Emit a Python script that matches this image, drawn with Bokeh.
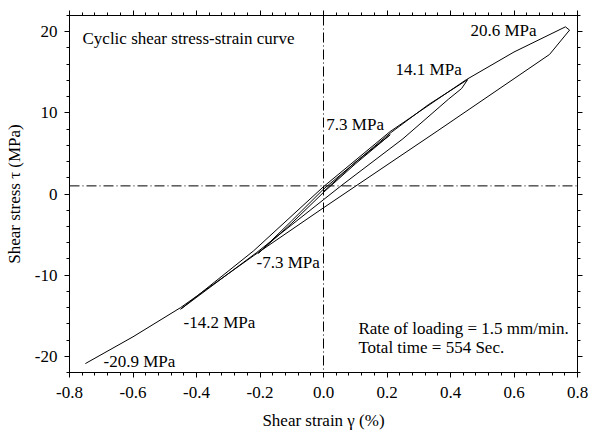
from bokeh.plotting import figure
from bokeh.models import (Range1d, LinearAxis, SingleIntervalTicker,
                          PrintfTickFormatter, Span, Label, CustomLabelingPolicy)
from bokeh.embed import file_html
from bokeh.resources import INLINE

# Loading path of the cyclic shear test: strain (%) and shear stress (MPa)
strain = [0.00, 0.10, 0.21, 0.10, 0.00, -0.10, -0.205, -0.10, 0.00, 0.21,
          0.33, 0.454, 0.435, 0.394, 0.25, 0.055, 0.00, -0.21, -0.45,
          -0.22, 0.00, 0.21, 0.45, 0.60, 0.762, 0.775, 0.712, 0.36, 0.00,
          -0.22, -0.45, -0.60, -0.75]
stress = [0.3, 3.9, 7.3, 3.7, 0.2, -3.6, -7.3, -3.3, 0.6, 7.5,
          11.0, 14.1, 13.0, 11.7, 6.8, 1.0, -0.7, -7.2, -14.2,
          -7.0, 0.9, 7.7, 14.1, 17.5, 20.6, 20.2, 17.2, 7.8, -1.7,
          -7.6, -14.0, -17.6, -20.9]

# Peak annotations: text, anchor strain, anchor stress
peak_text = ["20.6 MPa", "14.1 MPa", "7.3 MPa", "-7.3 MPa", "-14.2 MPa", "-20.9 MPa"]
peak_x = [0.463, 0.227, 0.009, -0.211, -0.441, -0.693]
peak_y = [20.1, 15.3, 8.6, -8.45, -15.8, -20.6]

ref_strain = 0.0
ref_stress = 1.0

FONT = "Liberation Serif"
FS = "17px"

p = figure(width=589, height=433, output_backend="svg", toolbar_location=None,
           x_range=Range1d(-0.8, 0.8), y_range=Range1d(-22, 22),
           x_axis_label="Shear strain γ (%)", y_axis_label="Shear stress τ (MPa)",
           min_border_left=69, min_border_right=12, min_border_top=15,
           min_border_bottom=61)
p.xgrid.visible = False
p.ygrid.visible = False
p.outline_line_color = "black"
p.outline_line_width = 1
p.background_fill_color = "white"
p.border_fill_color = "white"

xt = SingleIntervalTicker(interval=0.2, num_minor_ticks=5)
yt = SingleIntervalTicker(interval=10, num_minor_ticks=5)
p.xaxis.ticker = xt
p.yaxis.ticker = yt
p.xaxis.formatter = PrintfTickFormatter(format="%.1f")
p.yaxis.formatter = PrintfTickFormatter(format="%d")

# drops every label: the mirrored axes carry ticks only
no_labels = CustomLabelingPolicy(code="""
    for (const i of indices) indices.unset(i)
    return indices
""")


def style(ax, labels=True):
    ax.axis_line_color = "black"
    ax.major_tick_line_color = "black"
    ax.minor_tick_line_color = "black"
    ax.major_tick_in = 0
    ax.minor_tick_in = 0
    ax.major_tick_out = 5
    ax.minor_tick_out = 3
    ax.major_label_text_font = FONT
    ax.major_label_text_color = "black"
    ax.axis_label_text_font = FONT
    ax.axis_label_text_font_style = "normal"
    ax.axis_label_text_color = "black"
    ax.axis_label_text_font_size = FS
    if labels:
        ax.major_label_text_font_size = FS
        ax.major_label_standoff = 7
        ax.axis_label_standoff = 8
    else:
        ax.major_label_text_font_size = "0px"
        ax.major_label_policy = no_labels
        ax.major_label_standoff = 0
        ax.axis_label_standoff = 0


style(p.xaxis[0])
style(p.yaxis[0])
p.xaxis[0].major_label_standoff = 9
p.xaxis[0].axis_label_standoff = 10
p.add_layout(LinearAxis(ticker=xt), "above")
p.add_layout(LinearAxis(ticker=yt), "right")
style(p.above[0], labels=False)
style(p.right[0], labels=False)

# Reference lines through the origin region
p.add_layout(Span(location=ref_strain, dimension="height", line_color="black",
                  line_width=1, line_dash="10 3 1 3"))
p.add_layout(Span(location=ref_stress, dimension="width", line_color="black",
                  line_width=1, line_dash="10 3 1 3"))

p.line(strain, stress, line_color="black", line_width=1)

for t, x, y in zip(peak_text, peak_x, peak_y):
    p.add_layout(Label(x=x, y=y, text=t, text_font=FONT, text_font_size=FS,
                       text_baseline="middle", text_align="left",
                       text_color="black"))

p.add_layout(Label(x=-0.759, y=19.2, text="Cyclic shear stress-strain curve",
                   text_font=FONT, text_font_size=FS, text_baseline="middle",
                   text_color="black"))
p.add_layout(Label(x=0.110, y=-16.6, text="Rate of loading = 1.5 mm/min.",
                   text_font=FONT, text_font_size=FS, text_baseline="middle",
                   text_color="black"))
p.add_layout(Label(x=0.110, y=-18.9, text="Total time = 554 Sec.",
                   text_font=FONT, text_font_size=FS, text_baseline="middle",
                   text_color="black"))

open("out.html", "w").write(file_html(p, INLINE))
